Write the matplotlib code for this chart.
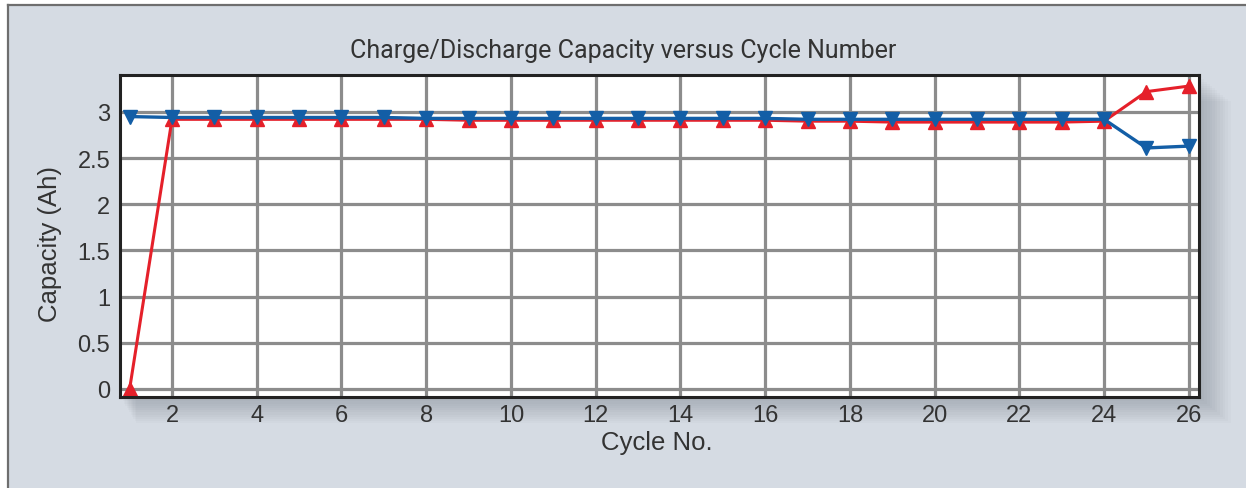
import matplotlib
matplotlib.use("Agg")
import matplotlib.pyplot as plt
from matplotlib.patches import Rectangle

cycles = list(range(1, 27))
discharge = [2.95, 2.94, 2.94, 2.94, 2.94, 2.94, 2.94, 2.93, 2.93, 2.93, 2.93, 2.93, 2.93,
             2.93, 2.93, 2.93, 2.92, 2.92, 2.92, 2.92, 2.92, 2.92, 2.92, 2.92, 2.61, 2.63]
charge = [0.0, 2.92, 2.92, 2.92, 2.92, 2.92, 2.92, 2.92, 2.91, 2.91, 2.91, 2.91, 2.91,
          2.91, 2.91, 2.91, 2.90, 2.90, 2.89, 2.89, 2.89, 2.89, 2.89, 2.90, 3.22, 3.28]
xticks = list(range(2, 27, 2))
yticks = [0, 0.5, 1, 1.5, 2, 2.5, 3]
ytick_labels = ["0", "0.5", "1", "1.5", "2", "2.5", "3"]
title = "Charge/Discharge Capacity versus Cycle Number"
xlabel = "Cycle No."
ylabel = "Capacity (Ah)"

plt.rcParams['font.family'] = ['Liberation Sans', 'DejaVu Sans']

W, H = 1246, 489
fig = plt.figure(figsize=(W / 100, H / 100), dpi=100)
fig.patch.set_facecolor("white")

bg = "#d5dbe3"
fig.patches.append(Rectangle((8 / W, 0), 1, 1 - 6 / H, transform=fig.transFigure,
                             facecolor=bg, edgecolor="none", zorder=-5))
fig.add_artist(plt.Line2D([8 / W, 8 / W], [0, 1 - 6 / H], transform=fig.transFigure,
                          color="#6e6e6e", lw=1.6, zorder=-4))
fig.add_artist(plt.Line2D([8 / W, 1], [1 - 6 / H, 1 - 6 / H], transform=fig.transFigure,
                          color="#6e6e6e", lw=1.6, zorder=-4))

left, right, top, bottom = 120, 1199, 76, 398
ax_rect = [left / W, 1 - bottom / H, (right - left) / W, (bottom - top) / H]

# soft drop shadow
n = 12
for i in range(n):
    off = (i + 1) * 2.2
    fig.patches.append(Rectangle(((left + off * 0.6) / W, 1 - (bottom + off) / H),
                                 (right - left + off * 0.6) / W, (bottom - top) / H,
                                 transform=fig.transFigure, facecolor="#4a5260",
                                 edgecolor="none", alpha=0.028, zorder=-3))

ax = fig.add_axes(ax_rect)
ax.set_zorder(2)
ax.set_facecolor("white")
ax.set_xlim(0.773, 26.24)
ax.set_ylim(-0.087, 3.40)
ax.set_xticks(xticks)
ax.set_yticks(yticks)
ax.set_yticklabels(ytick_labels)
ax.grid(True, color="#8c8c8c", lw=2.3)
ax.set_axisbelow(True)
ax.tick_params(length=0, labelsize=17, colors="#333333")
ax.tick_params(axis="y", pad=7)
ax.tick_params(axis="x", pad=5)
for s in ax.spines.values():
    s.set_color("#222222")
    s.set_linewidth(2.2)
    s.set_zorder(5)

ax.plot(cycles, charge, color="#e5202a", lw=2.2, marker="^", ms=10,
        mec="#e5202a", mfc="#e5202a", zorder=3, clip_on=False)
ax.plot(cycles, discharge, color="#135ea6", lw=2.4, marker="v", ms=10,
        mec="#135ea6", mfc="#135ea6", zorder=4, clip_on=False)

fig.text(0.5, 1 - 51 / H, title, ha="center", va="center", fontsize=18,
         color="#333333", family=['Roboto', 'DejaVu Sans'])
fig.text(657 / W, 1 - 443 / H, xlabel, ha="center", va="center", fontsize=18.5,
         color="#333333")
fig.text(50 / W, 1 - 244 / H, ylabel, ha="center", va="center", rotation=90,
         fontsize=18.5, color="#333333")

fig.savefig("out.png", dpi=100, facecolor=fig.get_facecolor())
